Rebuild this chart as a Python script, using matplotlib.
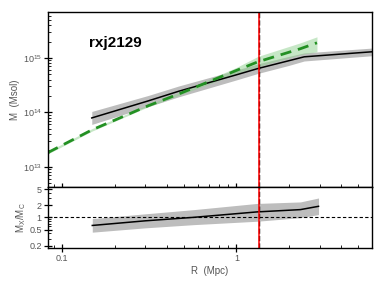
import numpy as np
import matplotlib.pyplot as plt
from matplotlib.ticker import FixedLocator, FixedFormatter, NullFormatter, LogLocator

plt.rcParams['font.family'] = ['Liberation Sans', 'DejaVu Sans']
plt.rcParams['mathtext.default'] = 'regular'

# hydrostatic (X-ray) mass profile, black line + grey band
r_x = [0.148, 0.313, 0.466, 1.0, 1.33, 2.0, 2.45, 6.0]
m_x = [7.9e13, 1.63e14, 2.44e14, 4.9e14, 6.4e14, 8.9e14, 1.05e15, 1.3e15]
m_x_lo = [6.0e13, 1.28e14, 1.93e14, 3.95e14, 5.2e14, 7.3e14, 8.8e14, 1.1e15]
m_x_hi = [1.04e14, 2.05e14, 3.05e14, 6.0e14, 7.8e14, 1.07e15, 1.24e15, 1.52e15]

# lensing mass profile, green dashed + green band
r_c = [0.083, 0.085, 0.148, 0.23, 0.313, 0.466, 1.0, 1.33, 2.33, 2.9]
m_c = [1.8e13, 1.9e13, 4.75e13, 8.7e13, 1.33e14, 2.17e14, 5.9e14, 8.5e14, 1.48e15, 1.9e15]
m_c_lo = [1.7e13, 1.8e13, 4.5e13, 8.3e13, 1.27e14, 2.05e14, 5.1e14, 6.9e14, 1.15e15, 1.3e15]
m_c_hi = [1.9e13, 2.0e13, 5.0e13, 9.1e13, 1.4e14, 2.3e14, 6.7e14, 1.07e15, 1.9e15, 2.45e15]

# ratio M_X / M_C
r_ratio = [0.149, 0.3, 0.57, 1.31, 2.33, 2.96]
ratio = [0.63, 0.82, 1.0, 1.36, 1.55, 1.87]
ratio_lo = [0.43, 0.55, 0.66, 0.8, 0.98, 1.17]
ratio_hi = [0.93, 1.22, 1.55, 2.2, 2.4, 3.0]

r500 = 1.34
label = "rxj2129"

grey = "#555555"

fig = plt.figure(figsize=(3.85, 2.89), dpi=100)
ax1 = fig.add_axes([48 / 385, 1 - 186.7 / 289, 324 / 385, 174.7 / 289])
ax2 = fig.add_axes([48 / 385, 1 - 248 / 289, 324 / 385, 61.3 / 289], sharex=ax1)

ax1.fill_between(r_x, m_x_lo, m_x_hi, color="#bdbdbd", lw=0)
ax1.fill_between(r_c, m_c_lo, m_c_hi, color="#8fd08f", alpha=0.5, lw=0)
ax1.plot(r_x, m_x, color="black", lw=1.1)
ax1.plot(r_c, m_c, color="#239023", lw=2, ls=(0, (4, 2.5)))
ax1.axvline(r500, color="black", lw=1.0, ls="--")
ax1.axvline(r500, color="red", lw=1.1)
ax1.text(0.125, 0.82, label, transform=ax1.transAxes, fontsize=11,
         fontweight="bold", va="center")
ax1.set_xscale("log")
ax1.set_yscale("log")
ax1.set_xlim(0.083, 6.0)
ax1.set_ylim(4.3e12, 7e15)
ax1.set_ylabel("M  (Msol)", fontsize=7, color=grey, labelpad=2)
ax1.yaxis.set_major_locator(FixedLocator([1e13, 1e14, 1e15]))
ax1.yaxis.set_minor_locator(LogLocator(base=10, subs=np.arange(2, 10)))
plt.setp(ax1.get_xticklabels(), visible=False)

ax2.fill_between(r_ratio, ratio_lo, ratio_hi, color="#bdbdbd", lw=0)
ax2.plot(r_ratio, ratio, color="black", lw=1.1)
ax2.axhline(1, color="black", lw=0.8, ls=(0, (3, 2)))
ax2.axvline(r500, color="black", lw=1.0, ls="--")
ax2.axvline(r500, color="red", lw=1.1)
ax2.set_yscale("log")
ax2.set_ylim(0.175, 5.7)
ax2.yaxis.set_major_locator(FixedLocator([0.2, 0.5, 1, 2, 5]))
ax2.yaxis.set_major_formatter(FixedFormatter(["0.2", "0.5", "1", "2", "5"]))
ax2.yaxis.set_minor_locator(LogLocator(base=10, subs=np.arange(2, 10)))
ax2.yaxis.set_minor_formatter(NullFormatter())
ax2.xaxis.set_major_locator(FixedLocator([0.1, 1]))
ax2.xaxis.set_major_formatter(FixedFormatter(["0.1", "1"]))
ax2.xaxis.set_minor_locator(LogLocator(base=10, subs=np.arange(2, 10)))
ax2.xaxis.set_minor_formatter(NullFormatter())
ax2.set_xlabel("R  (Mpc)", fontsize=7, color=grey, labelpad=2)
ax2.set_ylabel("M$_X$/M$_C$", fontsize=7, color=grey, labelpad=1)

for ax in (ax1, ax2):
    ax.tick_params(which="major", direction="inout", length=6, width=0.9,
                   labelsize=6.5, labelcolor=grey, pad=1.5)
    ax.tick_params(which="minor", direction="in", length=2.5, width=0.6)
    for s in ax.spines.values():
        s.set_linewidth(1.0)

fig.savefig("out.png", dpi=100)
